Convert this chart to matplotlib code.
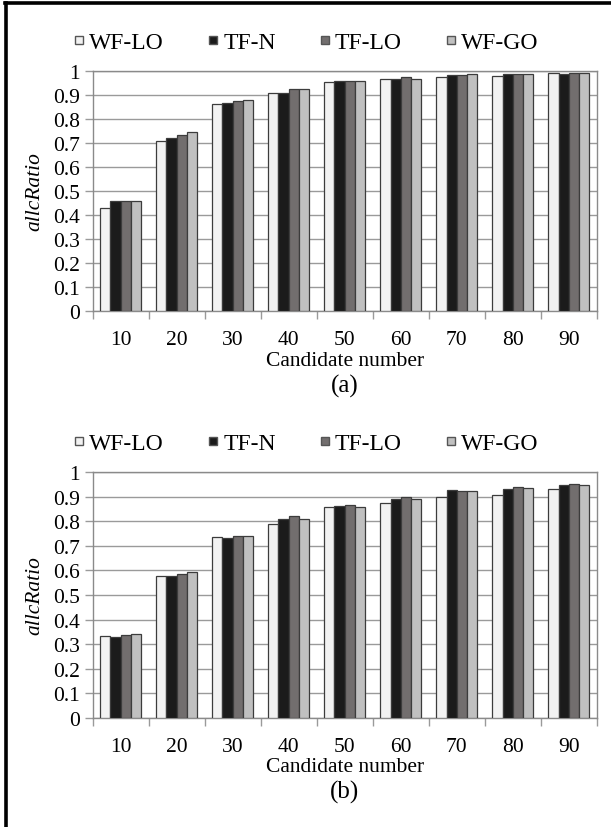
import matplotlib
matplotlib.use("Agg")
import matplotlib.pyplot as plt
import numpy as np
from matplotlib.lines import Line2D

plt.rcParams['font.family'] = ['Liberation Serif', 'DejaVu Serif']

categories = ["10", "20", "30", "40", "50", "60", "70", "80", "90"]
series_names = ["WF-LO", "TF-N", "TF-LO", "WF-GO"]

# panel (a)
a_wf_lo = [0.428, 0.710, 0.862, 0.910, 0.955, 0.965, 0.976, 0.980, 0.990]
a_tf_n  = [0.458, 0.722, 0.868, 0.910, 0.957, 0.965, 0.983, 0.987, 0.987]
a_tf_lo = [0.458, 0.735, 0.873, 0.926, 0.957, 0.976, 0.983, 0.987, 0.990]
a_wf_go = [0.458, 0.746, 0.880, 0.926, 0.957, 0.968, 0.987, 0.987, 0.990]

# panel (b)
b_wf_lo = [0.333, 0.578, 0.737, 0.790, 0.857, 0.875, 0.900, 0.908, 0.930]
b_tf_n  = [0.330, 0.578, 0.733, 0.810, 0.860, 0.890, 0.925, 0.930, 0.948]
b_tf_lo = [0.336, 0.585, 0.740, 0.820, 0.867, 0.897, 0.922, 0.940, 0.952]
b_wf_go = [0.340, 0.592, 0.740, 0.810, 0.857, 0.890, 0.922, 0.933, 0.948]

yticks = [0, 0.1, 0.2, 0.3, 0.4, 0.5, 0.6, 0.7, 0.8, 0.9, 1]
ytick_labels = ["0", "0.1", "0.2", "0.3", "0.4", "0.5", "0.6", "0.7", "0.8", "0.9", "1"]

colors = ["#f2f2f2", "#1b1b1b", "#726e6e", "#c0c0c0"]
edge = "#3c3c3c"
grid_c = "#9a9a9a"

W, H = 611, 828
fig = plt.figure(figsize=(W / 100, H / 100), dpi=100)

def px(x0, y0, x1, y1):
    return [x0 / W, 1 - y1 / H, (x1 - x0) / W, (y1 - y0) / H]

def panel(rect, data, letter, leg_y, xl_y, let_y):
    ax = fig.add_axes(rect)
    n = len(categories)
    x = np.arange(n)
    bw = 0.183
    for i, vals in enumerate(data):
        ax.bar(x + (i - 1.5) * bw, vals, bw, color=colors[i], edgecolor=edge,
               linewidth=0.9, zorder=3)
    ax.set_xlim(-0.5, n - 0.5)
    ax.set_ylim(0, 1)
    ax.set_yticks(yticks)
    ax.set_yticklabels(ytick_labels, fontsize=15.5)
    ax.yaxis.grid(True, color=grid_c, linewidth=1.0, zorder=0)
    ax.set_xticks(x)
    ax.set_xticklabels(categories, fontsize=15.5)
    ax.set_xticks(np.arange(n + 1) - 0.5, minor=True)
    ax.tick_params(axis='x', which='major', length=0, pad=14)
    ax.tick_params(axis='x', which='minor', length=6, color=grid_c, width=1.0, direction='out')
    ax.tick_params(axis='y', length=6, color=grid_c, width=1.0, pad=3)
    for s in ax.spines.values():
        s.set_color("#8a8a8a")
        s.set_linewidth(1.0)
    ax.set_ylabel("allcRatio", fontsize=15.5, style='italic', labelpad=4)
    ax.yaxis.set_label_coords((44 / W - rect[0]) / rect[2], 0.5)
    cx = rect[0] + rect[2] / 2
    fig.text(cx, 1 - xl_y / H, "Candidate number",
             ha='center', va='center', fontsize=15.5)
    fig.text(cx, 1 - let_y / H, letter,
             ha='center', va='center', fontsize=18)
    handles = [Line2D([], [], linestyle='none', marker='s', markersize=5.6,
                      markerfacecolor=colors[i], markeredgecolor="#555555",
                      markeredgewidth=1.0)
               for i in range(4)]
    fig.legend(handles, series_names, loc='center left',
               bbox_to_anchor=(74 / W, 1 - leg_y / H), ncol=4, frameon=False,
               fontsize=17, handlelength=0.45,
               handletextpad=0.2, columnspacing=1.85, borderpad=0,
               borderaxespad=0)
    return ax

panel(px(92.5, 72, 597, 312), [a_wf_lo, a_tf_n, a_tf_lo, a_wf_go], "(a)", 43, 362, 386)
panel(px(92.5, 473, 597, 719), [b_wf_lo, b_tf_n, b_tf_lo, b_wf_go], "(b)", 444, 768, 792)

# outer frame (top and left edges)
fig.add_artist(Line2D([5 / W, 1], [1 - 3.5 / H, 1 - 3.5 / H], color='black', linewidth=2.6,
                      transform=fig.transFigure))
fig.add_artist(Line2D([6 / W, 6 / W], [0, 1 - 3.5 / H], color='black', linewidth=2.6,
                      transform=fig.transFigure))

fig.savefig("out.png", dpi=100)
